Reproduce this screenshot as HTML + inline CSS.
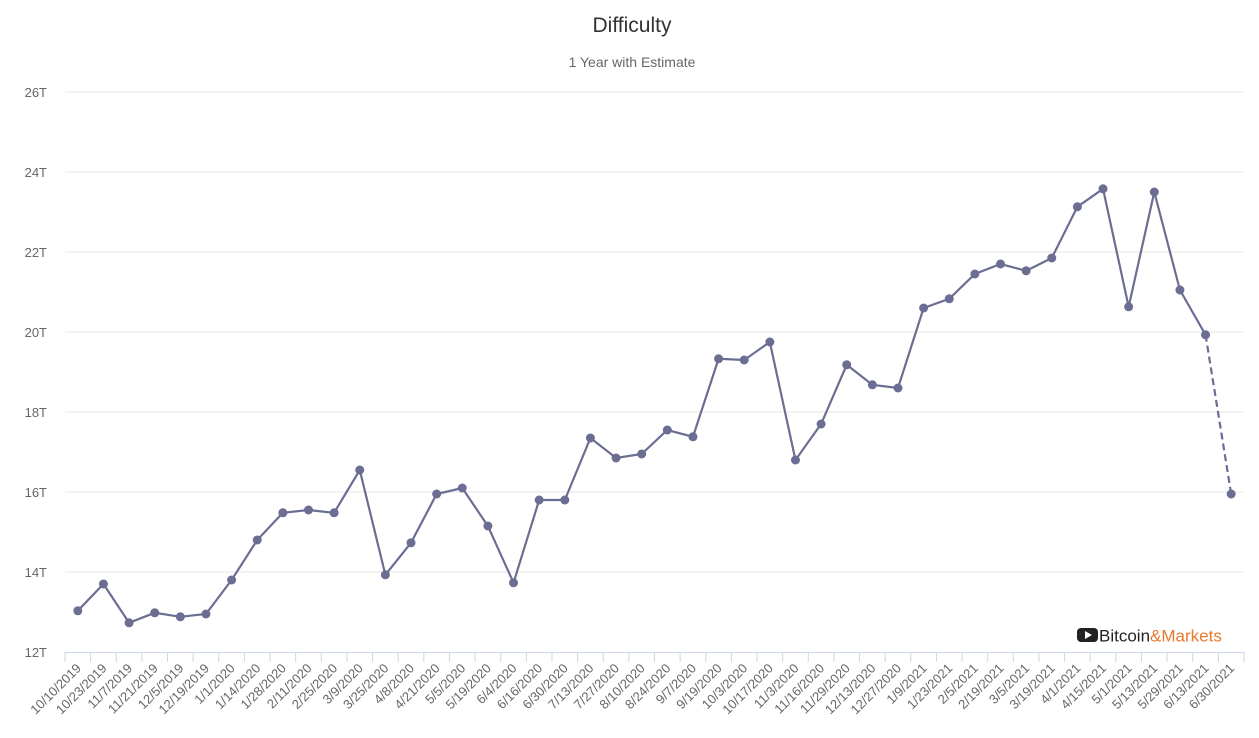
<!DOCTYPE html>
<html><head><meta charset="utf-8"><style>
body{margin:0;background:#fff;font-family:"Liberation Sans",sans-serif}
svg text{font-family:"Liberation Sans",sans-serif}
</style></head><body>
<svg id="chart" width="1259" height="733">
<text x="632" y="32" text-anchor="middle" font-size="21" fill="#333">Difficulty</text>
<text x="632" y="67" text-anchor="middle" font-size="14" fill="#666">1 Year with Estimate</text>
<g id="grid"></g><g id="xaxis"></g><g id="series"></g>
<g>
<rect x="1077" y="628" width="21" height="14" rx="4" fill="#222"/>
<polygon points="1085,631 1085,639 1092,635" fill="#fff"/>
<text x="1099" y="641.5" font-size="17" fill="#222">Bitcoin<tspan fill="#e8792d">&amp;Markets</tspan></text>
</g>
</svg>
<script>
const categories=["10/10/2019","10/23/2019","11/7/2019","11/21/2019","12/5/2019","12/19/2019","1/1/2020","1/14/2020","1/28/2020","2/11/2020","2/25/2020","3/9/2020","3/25/2020","4/8/2020","4/21/2020","5/5/2020","5/19/2020","6/4/2020","6/16/2020","6/30/2020","7/13/2020","7/27/2020","8/10/2020","8/24/2020","9/7/2020","9/19/2020","10/3/2020","10/17/2020","11/3/2020","11/16/2020","11/29/2020","12/13/2020","12/27/2020","1/9/2021","1/23/2021","2/5/2021","2/19/2021","3/5/2021","3/19/2021","4/1/2021","4/15/2021","5/1/2021","5/13/2021","5/29/2021","6/13/2021","6/30/2021"];
const difficulty=[13.03,13.7,12.73,12.98,12.88,12.95,13.8,14.8,15.48,15.55,15.48,16.55,13.93,14.73,15.95,16.1,15.15,13.73,15.8,15.8,17.35,16.85,16.95,17.55,17.38,19.33,19.3,19.75,16.8,17.7,19.18,18.68,18.6,20.6,20.83,21.45,21.7,21.53,21.85,23.13,23.58,20.63,23.5,21.05,19.93,15.95];
const yTicks=[12,14,16,18,20,22,24,26];
const estimateCount=1;
const NS="http://www.w3.org/2000/svg";
const L=65,R=1244,T=92,B=652,ymin=12,ymax=26;
const bw=(R-L)/categories.length;
const x=i=>L+bw*(i+0.5);
const y=v=>B-(v-ymin)/(ymax-ymin)*(B-T);
function mk(tag,attrs,parent,text){const e=document.createElementNS(NS,tag);for(const k in attrs)e.setAttribute(k,attrs[k]);if(text!=null)e.textContent=text;parent.appendChild(e);return e;}
const grid=document.getElementById('grid');
yTicks.forEach(t=>{
 if(t>ymin){const l=mk('line',{x1:L,x2:R,y1:y(t),y2:y(t),stroke:'#e6e6e6'},grid);
 
 }
 const tx=mk('text',{x:47,y:y(t)+5,'text-anchor':'end','font-size':13,fill:'#666'},grid,t+'T');
 
 
});
const xa=document.getElementById('xaxis');
const ax=mk('line',{x1:L,x2:R,y1:B+0.5,y2:B+0.5,stroke:'#ccd6eb'},xa);


for(let i=0;i<=categories.length;i++){mk('line',{x1:L+bw*i,x2:L+bw*i,y1:B,y2:B+10,stroke:'#ccd6eb'},xa);}
categories.forEach((c,i)=>{
 const t=mk('text',{x:x(i)+4,y:B+17,'text-anchor':'end','font-size':13,fill:'#666',transform:`rotate(-45 ${x(i)+4} ${B+17})`},xa,c);
 
 
});
const s=document.getElementById('series');
const n=difficulty.length, solidEnd=n-estimateCount;
const pts=difficulty.map((v,i)=>x(i)+','+y(v));
const p1=mk('polyline',{points:pts.slice(0,solidEnd).join(' '),fill:'none',stroke:'#6b6d92','stroke-width':2.2},s);


const p2=mk('polyline',{points:pts.slice(solidEnd-1).join(' '),fill:'none',stroke:'#6b6d92','stroke-width':2.2,'stroke-dasharray':'7,4'},s);


difficulty.forEach((v,i)=>{
 const c=mk('circle',{cx:x(i),cy:y(v),r:4.5,fill:'#6b6d92'},s);
 
 
});
</script>
</body></html>
